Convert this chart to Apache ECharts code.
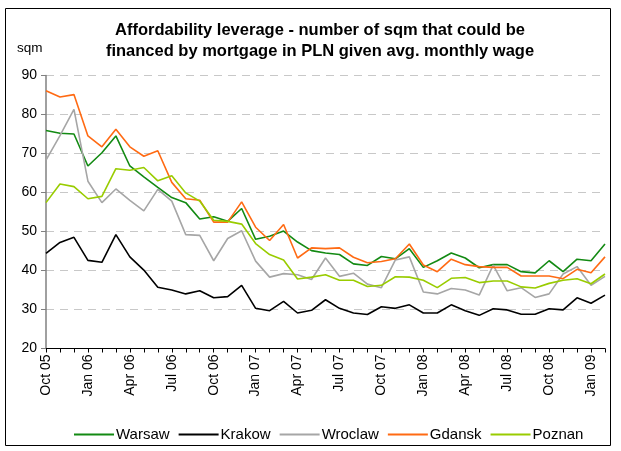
<!DOCTYPE html>
<html>
<head>
<meta charset="utf-8">
<script src="https://cdn.jsdelivr.net/npm/echarts@6/dist/echarts.min.js"></script>
<style>
html,body{margin:0;padding:0;background:#fff;}
#chart{width:621px;height:451px;}
</style>
</head>
<body>
<div id="chart"></div>
<script>
const categories = ['Oct 05','Nov 05','Dec 05','Jan 06','Feb 06','Mar 06','Apr 06','May 06','Jun 06','Jul 06','Aug 06','Sep 06','Oct 06','Nov 06','Dec 06','Jan 07','Feb 07','Mar 07','Apr 07','May 07','Jun 07','Jul 07','Aug 07','Sep 07','Oct 07','Nov 07','Dec 07','Jan 08','Feb 08','Mar 08','Apr 08','May 08','Jun 08','Jul 08','Aug 08','Sep 08','Oct 08','Nov 08','Dec 08','Jan 09','Feb 09'];
const warsaw = [75.9,75.2,75.0,66.8,70.2,74.5,66.8,64.0,61.3,58.7,57.4,53.2,53.8,52.6,55.9,48.0,48.8,50.1,47.3,45.1,44.5,44.1,41.7,41.3,43.6,43.0,45.6,40.8,42.5,44.5,43.2,40.7,41.5,41.5,39.7,39.4,42.5,39.7,42.9,42.5,46.8];
const krakow = [44.4,47.2,48.5,42.6,42.1,49.2,43.5,40.1,35.7,35.0,34.0,34.8,33.0,33.3,36.2,30.3,29.7,32.1,29.1,29.8,32.5,30.3,29.1,28.7,30.7,30.3,31.2,29.1,29.1,31.2,29.7,28.5,30.2,29.9,28.8,28.8,30.2,29.9,33.0,31.6,33.7];
const wroclaw = [68.3,74.6,81.3,62.9,57.4,60.9,58.0,55.3,60.8,57.8,49.2,49.0,42.5,48.2,50.2,42.4,38.3,39.2,38.9,37.7,43.2,38.5,39.3,36.5,35.6,42.7,43.5,34.5,34.0,35.4,35.0,33.7,41.4,34.8,35.6,33.1,34.0,39.1,41.0,36.2,38.5];
const gdansk = [86.1,84.5,85.1,74.5,71.7,76.2,71.7,69.3,70.7,62.6,58.4,58.0,52.4,52.4,57.6,51.1,47.7,51.8,43.2,45.8,45.6,45.8,43.4,42.0,42.3,43.0,46.8,41.4,39.7,42.9,41.5,41.0,40.8,40.8,38.6,38.6,38.6,37.9,40.3,39.4,43.5];
const poznan = [57.4,62.2,61.5,58.4,59.0,66.1,65.7,66.4,63.0,64.3,59.9,57.8,52.9,52.6,51.9,46.9,44.1,42.7,37.8,38.3,38.9,37.5,37.5,35.9,36.2,38.4,38.3,37.5,35.6,38.0,38.2,36.9,37.3,37.3,35.8,35.5,36.7,37.5,37.9,36.6,39.1];
const seriesNames = ['Warsaw','Krakow','Wroclaw','Gdansk','Poznan'];
const seriesColors = ['#138a13','#000000','#a6a6a6','#ff6a13','#99cc00'];
const seriesData = [warsaw, krakow, wroclaw, gdansk, poznan];
const titleText = 'Affordability leverage - number of sqm that could be\nfinanced by mortgage in PLN given avg. monthly wage';
const yUnit = 'sqm';

const FONT = '"Liberation Sans", Arial, sans-serif';
const chart = echarts.init(document.getElementById('chart'), null, {renderer:'canvas'});
chart.setOption({
  animation: false,
  backgroundColor: '#ffffff',
  title: {
    text: titleText,
    left: 315, top: 15, textAlign: 'center',
    textStyle: {fontFamily: FONT, fontSize: 16.5, fontWeight: 'bold', color: '#000', lineHeight: 21}
  },
  graphic: [
    {type:'rect', shape:{x:5.5, y:8.5, width:605, height:437}, style:{fill:'none', stroke:'#000', lineWidth:1}, silent:true},
    {type:'text', left: 17, top: 41, style:{text: yUnit, fontFamily: FONT, fontSize: 13.5, fill:'#000'}}
  ],
  legend: {
    left: 69, top: 422,
    icon: 'rect', itemWidth: 40, itemHeight: 2, itemGap: 9,
    textStyle: {fontFamily: FONT, fontSize: 15, color: '#000', padding:[0,0,0,-3]},
    data: seriesNames
  },
  grid: {left: 46, right: 16, top: 75.5, bottom: 102.5, containLabel: false},
  xAxis: {
    type: 'category', data: categories, boundaryGap: false,
    axisLine: {lineStyle: {color: '#000', width: 1}},
    axisTick: {show: true, interval: 0, length: 4, lineStyle:{color:'#000'}},
    axisLabel: {interval: 2, rotate: 90, margin: 6, fontFamily: FONT, fontSize: 14, color: '#000'},
    splitLine: {show: false}
  },
  yAxis: {
    type: 'value', min: 20, max: 90, interval: 10,
    axisLine: {show: true, lineStyle: {color: '#808080', width: 1.5}},
    axisTick: {show: true, length: 5, lineStyle:{color:'#808080'}},
    axisLabel: {fontFamily: FONT, fontSize: 14, color: '#000', margin: 9},
    splitLine: {show: true, lineStyle: {color: '#c8c8c8', type: [8,6], width: 1}}
  },
  series: seriesNames.map((n, k) => ({
    name: n, type: 'line', data: seriesData[k], symbol: 'none', showSymbol: false,
    lineStyle: {color: seriesColors[k], width: 1.6}, itemStyle: {color: seriesColors[k]}
  }))
});
</script>
</body>
</html>
